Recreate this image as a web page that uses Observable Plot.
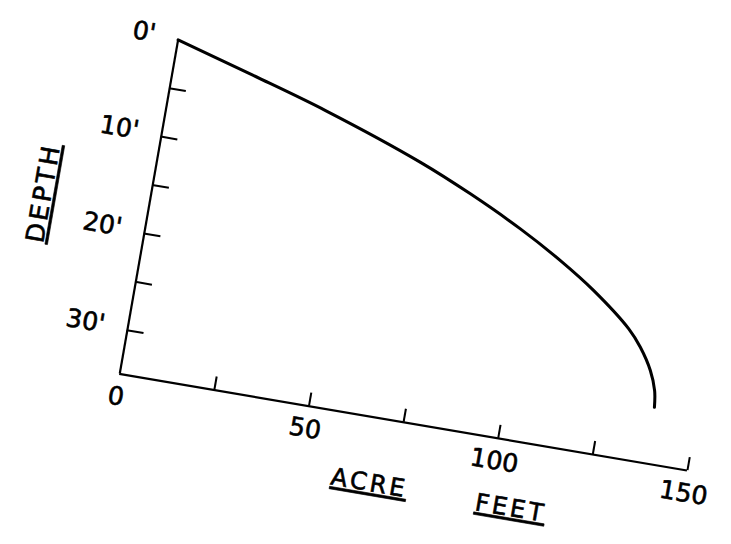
<!DOCTYPE html>
<html><head><meta charset="utf-8">
<script src="https://cdn.jsdelivr.net/npm/d3@7"></script>
<script src="https://cdn.jsdelivr.net/npm/@observablehq/plot@0.6"></script>
<style>
html,body{margin:0;padding:0;background:#fff;}
svg{overflow:visible}
</style></head><body>
<script>
// Depth (ft) vs cumulative storage (acre-feet)
const depthFt  = [0, 2.25, 4.57, 8.14, 10.45, 13.11, 15.61, 18.05, 21.29, 22.94, 25.10, 27.04, 28.72];
const acreFeet = [0, 20.6, 41.0, 67.7, 81.9, 96.3, 108.0, 117.9, 128.6, 132.4, 136.0, 138.0, 138.7];

const depthTicks  = [5, 10, 15, 20, 25, 30];
const depthLabels = [0, 10, 20, 30];
const acreTicks   = [25, 50, 75, 100, 125, 150];
const acreLabels  = [0, 50, 100, 150];
const yTitle = "DEPTH";
const xTitleA = "ACRE";
const xTitleB = "FEET";

const depthMax = 34.5;
const curve = depthFt.map((d, i) => ({depth: d, acre: acreFeet[i]}));
const ink = "#000";

const chart = Plot.plot({
  width: 731, height: 544,
  marginLeft: 120, marginRight: 41, marginTop: 40, marginBottom: 169,
  x: {domain: [0, 150]},
  y: {domain: [0, depthMax], reverse: true},
  style: {fontFamily: "DejaVu Sans", fontSize: "25px", color: ink, background: "#fff"},
  marks: [
    Plot.ruleX([0], {stroke: ink, strokeWidth: 2.2}),
    Plot.ruleY([depthMax], {stroke: ink, strokeWidth: 2.2}),
    Plot.ruleY(depthTicks, {y: d => d, x1: 0, x2: 4.4, stroke: ink, strokeWidth: 2}),
    Plot.ruleX(acreTicks, {x: d => d, y1: depthMax, y2: depthMax - 1.34, stroke: ink, strokeWidth: 2}),
    Plot.axisY(depthLabels, {tickSize: 0, tickPadding: 23, dy: -2, tickFormat: d => d + "'", fontSize: 25, label: null}),
    Plot.axisX(acreLabels, {tickSize: 0, tickPadding: 13, fontSize: 25, label: null}),
    Plot.line(curve, {x: "acre", y: "depth", curve: "catmull-rom", stroke: ink, strokeWidth: 3}),
    Plot.text([yTitle], {text: d => d, frameAnchor: "left", textAnchor: "middle", lineAnchor: "middle", rotate: -90, dx: -105, dy: 4, fontSize: 25}),
    Plot.text([xTitleA], {text: d => d, frameAnchor: "bottom", textAnchor: "middle", lineAnchor: "middle", dx: -23, dy: 65, fontSize: 24}),
    Plot.text([xTitleB], {text: d => d, frameAnchor: "bottom", textAnchor: "middle", lineAnchor: "middle", dx: 119, dy: 66, fontSize: 24})
  ]
});

// hand-lettered look: slightly heavier strokes, titles spaced and underlined
chart.querySelectorAll("text").forEach(t => {
  t.style.stroke = ink;
  t.style.strokeWidth = "0.6px";
  if ([yTitle, xTitleA, xTitleB].includes(t.textContent)) {
    t.style.letterSpacing = "3px";
    t.style.textDecoration = "underline";
    t.style.textDecorationThickness = "2.5px";
    t.style.textUnderlineOffset = "5px";
  }
});

// the drawing is tilted on the page: apply the same affine tilt
const g = document.createElementNS("http://www.w3.org/2000/svg", "g");
g.setAttribute("transform", "matrix(0.99596,0.16965,-0.17433,0.99701,65.16,-20.94)");
while (chart.firstChild) g.appendChild(chart.firstChild);
chart.appendChild(g);

document.body.appendChild(chart);
</script>
</body></html>
